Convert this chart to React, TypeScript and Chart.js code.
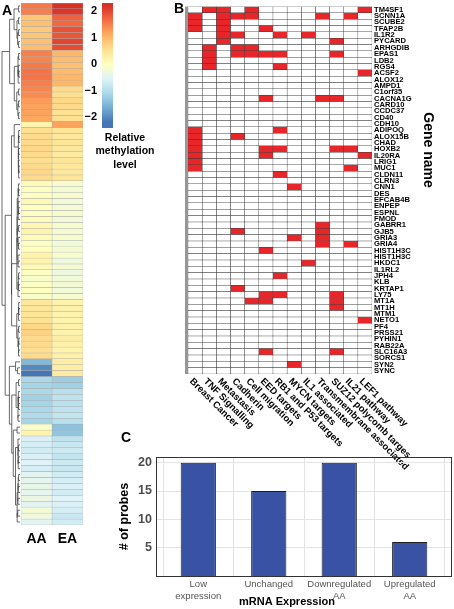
import React, { useEffect, useRef } from 'react';
import { Chart, registerables } from 'chart.js';
Chart.register(...registerables);

const FONT = '"Liberation Sans", Arial, Helvetica, sans-serif';

// ---------- Panel A: relative methylation heatmap ----------
const heatColumns = ['AA', 'EA'];
const aaValues = [
  1.55, 1.5,
  0.85, 0.9, 0.8, 0.85, 0.9, 0.95,
  1.5, 1.45, 1.55, 1.6, 1.6, 1.5,
  1.45, 1.4, 1.25, 1.2, 1.2, 1.15,
  0.2,
  0.55, 0.6, 0.6, 0.65, 0.6, 0.55, 0.6, 0.65, 0.6,
  0.05, -0.05, 0.0, 0.1, 0.0, -0.05, 0.05, 0.15, 0.2, 0.05, -0.05, 0.0, 0.2, 0.2, 0.1, -0.05, -0.1, -0.05, 0.0, -0.1,
  0.4, 0.45, 0.45, 0.5, 0.65, 0.7, 0.6, 0.6, 0.55, 0.6,
  -1.5, -2.0, -2.2,
  -1.1, -1.15, -1.1, -1.2, -1.15, -1.1, -1.05, -1.15,
  -0.1, 0.2,
  -0.6, -0.65, -0.7, -0.6, -0.55, -0.65, -0.5, -0.45, -0.4, -0.45, -0.35, -0.5, -0.2, -0.3, -0.5,
];
const eaValues = [
  2.2, 2.15,
  1.75, 1.7, 1.9, 1.85, 2.0, 1.95,
  1.0, 0.95, 0.9, 0.95, 1.0, 1.0,
  0.6, 0.55, 0.65, 0.6, 0.5, 0.55,
  1.2,
  0.45, 0.4, 0.45, 0.4, 0.35, 0.45, 0.4, 0.4, 0.45,
  -0.15, -0.2, -0.15, -0.25, -0.2, -0.15, -0.25, -0.15, -0.2, -0.15, -0.25, -0.2, -0.15, -0.3, -0.2, -0.3, -0.25, -0.2, -0.25, -0.15,
  0.2, 0.25, 0.2, 0.2, 0.25, 0.2, 0.3, 0.25, 0.2, 0.25,
  0.3, 0.3, 0.35,
  -1.25, -1.2, -0.95, -0.9, -0.95, -0.9, -0.85, -0.95,
  -1.4, -1.35,
  -0.9, -0.8, -0.75, -0.85, -0.75, -0.8, -0.7, -0.65, -0.6, -0.7, -0.55, -0.6, -0.65, -0.8, -0.7,
];
const colorbarTicks = [2, 1, 0, -1, -2];
const colorbarRange = [-2.41, 2.3];
const colorbarTitle = ['Relative', 'methylation', 'level'];
const rdylbu = ['#4575b4', '#74add1', '#abd9e9', '#e0f3f8', '#ffffbf', '#fee090', '#fdae61', '#f46d43', '#d73027'];
const colorLimit = 2.2;

// ---------- Panel B: pathway membership ----------
const genes = [
  'TM4SF1', 'SCNN1A', 'SCUBE2', 'TFAP2B', 'IL1R2', 'PYCARD', 'ARHGDIB', 'EPAS1', 'LDB2', 'RGS4',
  'ACSF2', 'ALOX12', 'AMPD1', 'C1orf35', 'CACNA1G', 'CARD10', 'CCDC37', 'CD40', 'CDH10', 'ADIPOQ',
  'ALOX15B', 'CHAD', 'HOXB2', 'IL20RA', 'LRIG1', 'MUC1', 'CLDN11', 'CLRN3', 'CNN1', 'DES',
  'EFCAB4B', 'ENPEP', 'ESPNL', 'FMOD', 'GABRR1', 'GJB5', 'GRIA3', 'GRIA4', 'HIST1H3C', 'HIST1H3C',
  'HKDC1', 'IL1RL2', 'JPH4', 'KLB', 'KRTAP1', 'LY75', 'MT1A', 'MT1H', 'MTM1', 'NETO1',
  'PF4', 'PRSS21', 'PYHIN1', 'RAB22A', 'SLC16A3', 'SORCS1', 'SYN2', 'SYNC',
];
const pathways = [
  'Breast Cancer', 'TNF Signalling', 'Metastasis', 'Cadherin', 'Cell migration', 'EED targets',
  'RB1 and P53 targets', 'MYCN targets', 'IL1 associated', 'Transmembrane associated',
  'SUZ12 polycomb targes', 'IL21 pathway', 'LEF1 pathway',
];
// pathway column indices each gene belongs to (same order as genes)
const geneHits: number[][] = [
  [1, 2, 4, 12], [0, 2, 3, 4, 9, 11], [0, 2], [0, 2, 5], [2, 3, 6, 8], [2, 10], [1, 3, 4], [1, 3, 4, 5, 6, 10], [1], [1, 6],
  [12], [], [], [], [5, 9, 10], [], [], [], [], [0, 6],
  [0, 3], [0], [0, 5, 6, 10, 11], [0, 5, 12], [0], [0, 11], [6], [], [7], [],
  [], [], [], [], [9], [3, 9], [7, 9], [9, 11], [5], [],
  [8], [], [6], [], [3], [5, 6, 10], [4, 5, 10], [10], [], [12],
  [], [], [], [], [5, 10], [], [7], [],
];
const hitColor = '#e8262a';

// ---------- Panel C: probes per mRNA expression group ----------
const expressionCategories = [['Low', 'expression'], ['Unchanged'], ['Downregulated', 'AA'], ['Upregulated', 'AA']];
const probeCounts = [20, 15, 20, 6];
const probeTicks = [5, 10, 15, 20];

function hexToRgb(h: string) {
  return [parseInt(h.slice(1, 3), 16), parseInt(h.slice(3, 5), 16), parseInt(h.slice(5, 7), 16)];
}
function colorFor(v: number) {
  const t = Math.min(1, Math.max(0, (v + colorLimit) / (2 * colorLimit))) * (rdylbu.length - 1);
  const i = Math.min(rdylbu.length - 2, Math.floor(t));
  const f = t - i;
  const a = hexToRgb(rdylbu[i]);
  const b = hexToRgb(rdylbu[i + 1]);
  const c = a.map((x, k) => Math.round(x + (b[k] - x) * f));
  return `rgb(${c[0]},${c[1]},${c[2]})`;
}

type TNode = { n: number; m: number[]; h: number; pos: number; kids?: TNode[] };
function buildTree(): TNode {
  let cl: TNode[] = aaValues.map((a, i) => ({ n: 1, m: [a, eaValues[i]], h: 0, pos: i }));
  while (cl.length > 1) {
    let best = 0;
    let bestD = Infinity;
    for (let j = 0; j < cl.length - 1; j++) {
      const A = cl[j], B = cl[j + 1];
      const dx = A.m[0] - B.m[0], dy = A.m[1] - B.m[1];
      const d = Math.sqrt(((2 * A.n * B.n) / (A.n + B.n)) * (dx * dx + dy * dy));
      if (d < bestD) { bestD = d; best = j; }
    }
    const A = cl[best], B = cl[best + 1];
    const n = A.n + B.n;
    const node: TNode = {
      n,
      m: [(A.m[0] * A.n + B.m[0] * B.n) / n, (A.m[1] * A.n + B.m[1] * B.n) / n],
      h: Math.max(bestD, A.h, B.h),
      pos: (A.pos + B.pos) / 2,
      kids: [A, B],
    };
    cl.splice(best, 2, node);
  }
  return cl[0];
}

export default function App() {
  const aRef = useRef<HTMLCanvasElement>(null);
  const bRef = useRef<HTMLCanvasElement>(null);
  const cRef = useRef<HTMLCanvasElement>(null);

  useEffect(() => {
    Chart.defaults.font.family = FONT;
    const charts: Chart[] = [];
    const tree = buildTree();

    // ---- Panel A ----
    const aPlugin = {
      id: 'aExtras',
      afterDraw(chart: any) {
        const { ctx, chartArea, scales } = chart;
        ctx.save();
        // dendrogram
        const right = chartArea.left - 1;
        const left = 2;
        const maxH = tree.h;
        const hx = (h: number) => right - Math.sqrt(h / maxH) * (right - left);
        const py = (p: number) => scales.y.getPixelForValue(p);
        ctx.strokeStyle = '#444';
        ctx.lineWidth = 0.8;
        const walk = (nd: TNode) => {
          if (!nd.kids) return;
          const [A, B] = nd.kids;
          ctx.beginPath();
          ctx.moveTo(hx(A.h), py(A.pos));
          ctx.lineTo(hx(nd.h), py(A.pos));
          ctx.lineTo(hx(nd.h), py(B.pos));
          ctx.lineTo(hx(B.h), py(B.pos));
          ctx.stroke();
          walk(A);
          walk(B);
        };
        walk(tree);
        // column labels
        ctx.fillStyle = '#000';
        ctx.font = `bold 14px ${FONT}`;
        ctx.textAlign = 'center';
        ctx.textBaseline = 'alphabetic';
        heatColumns.forEach((c, i) => {
          ctx.fillText(c, scales.x.getPixelForValue(i + 0.5), chartArea.bottom + 18);
        });
        // colour bar
        const cbx = 102, cbw = 11, cbTop = 3, cbBot = 128;
        const vAt = (y: number) => colorbarRange[1] - ((y - cbTop) / (cbBot - cbTop)) * (colorbarRange[1] - colorbarRange[0]);
        const yAt = (v: number) => cbTop + ((colorbarRange[1] - v) / (colorbarRange[1] - colorbarRange[0])) * (cbBot - cbTop);
        for (let y = cbTop; y < cbBot; y++) {
          ctx.fillStyle = colorFor(vAt(y + 0.5));
          ctx.fillRect(cbx, y, cbw, 1);
        }
        ctx.fillStyle = '#000';
        ctx.font = `bold 11px ${FONT}`;
        ctx.textAlign = 'right';
        ctx.textBaseline = 'middle';
        colorbarTicks.forEach((t) => {
          ctx.fillText(t < 0 ? '\u2212' + Math.abs(t) : String(t), 97, yAt(t));
        });
        ctx.textAlign = 'center';
        ctx.font = `bold 10.5px ${FONT}`;
        colorbarTitle.forEach((s, i) => ctx.fillText(s, 125, 138 + i * 13.5));
        ctx.restore();
      },
    };
    charts.push(
      new Chart(aRef.current!, {
        type: 'bar',
        data: {
          labels: aaValues.map((_, i) => String(i)),
          datasets: [aaValues, eaValues].map((vals, k) => ({
            label: heatColumns[k],
            data: vals.map(() => 1),
            backgroundColor: vals.map(colorFor),
            borderColor: '#a9a9a9',
            borderWidth: 0.5,
            borderSkipped: false,
            barPercentage: 1,
            categoryPercentage: 1,
          })),
        },
        options: {
          indexAxis: 'y',
          responsive: false,
          animation: false,
          layout: { padding: { left: 21, top: 3, right: 180 - 83, bottom: 550 - 525 } },
          plugins: { legend: { display: false }, tooltip: { enabled: false } },
          scales: {
            x: { stacked: true, min: 0, max: 2, display: false },
            y: { stacked: true, display: false },
          },
        },
        plugins: [aPlugin],
      } as any)
    );

    // ---- Panel B ----
    const bPlugin = {
      id: 'bExtras',
      afterDraw(chart: any) {
        const { ctx, chartArea, scales } = chart;
        ctx.save();
        ctx.fillStyle = '#979797';
        ctx.fillRect(chartArea.left - 3, chartArea.top, 3, chartArea.bottom - chartArea.top);
        ctx.fillStyle = '#000';
        ctx.font = `bold 9.5px ${FONT}`;
        ctx.textAlign = 'left';
        ctx.textBaseline = 'middle';
        pathways.forEach((p, j) => {
          const x = scales.x.getPixelForValue(j + 0.5);
          ctx.save();
          ctx.translate(x - 4, chartArea.bottom + 6);
          ctx.rotate(Math.PI / 4);
          ctx.fillText(p, 0, 0);
          ctx.restore();
        });
        ctx.save();
        ctx.translate(248, 150);
        ctx.rotate(Math.PI / 2);
        ctx.font = `bold 14px ${FONT}`;
        ctx.textAlign = 'center';
        ctx.fillText('Gene name', 0, 0);
        ctx.restore();
        ctx.restore();
      },
    };
    charts.push(
      new Chart(bRef.current!, {
        type: 'bar',
        data: {
          labels: genes,
          datasets: pathways.map((p, j) => ({
            label: p,
            data: genes.map(() => 1),
            backgroundColor: geneHits.map((h) => (h.includes(j) ? hitColor : '#ffffff')),
            borderColor: '#3c3c3c',
            borderWidth: 0.5,
            borderSkipped: false,
            barPercentage: 1,
            categoryPercentage: 1,
          })),
        },
        options: {
          indexAxis: 'y',
          responsive: false,
          animation: false,
          layout: { padding: { left: 8, top: 5, right: 0, bottom: 470 - 374 } },
          plugins: { legend: { display: false }, tooltip: { enabled: false } },
          scales: {
            x: { stacked: true, min: 0, max: pathways.length, display: false },
            y: {
              stacked: true,
              position: 'right',
              grid: { display: false, drawTicks: false },
              border: { display: false },
              afterFit: (s: any) => { s.width = 82; },
              ticks: {
                autoSkip: false,
                padding: 2,
                color: '#000',
                font: { size: 7.6, weight: 'bold', family: FONT },
              },
            },
          },
        },
        plugins: [bPlugin],
      } as any)
    );

    // ---- Panel C ----
    const cPlugin = {
      id: 'cExtras',
      afterDraw(chart: any) {
        const { ctx, chartArea } = chart;
        ctx.save();
        ctx.strokeStyle = '#333';
        ctx.lineWidth = 1;
        ctx.strokeRect(chartArea.left + 0.5, chartArea.top + 0.5, chartArea.right - chartArea.left - 1, chartArea.bottom - chartArea.top);
        ctx.fillStyle = '#000';
        ctx.font = `bold 11px ${FONT}`;
        ctx.textAlign = 'center';
        ctx.textBaseline = 'middle';
        ctx.fillText('mRNA Expression', 172, 177);
        ctx.restore();
      },
    };
    charts.push(
      new Chart(cRef.current!, {
        type: 'bar',
        data: {
          datasets: [
            {
              data: probeCounts.map((v, i) => ({ x: i + 1, y: v })),
              backgroundColor: '#3a52a3',
              borderColor: '#1e1e1e',
              borderWidth: 1,
              barPercentage: 0.5,
              categoryPercentage: 1,
            },
          ],
        },
        options: {
          responsive: false,
          animation: false,
          layout: { padding: { left: 0, top: 32, right: 2, bottom: 0 } },
          plugins: { legend: { display: false }, tooltip: { enabled: false } },
          scales: {
            x: {
              type: 'linear',
              min: 0.4,
              max: 4.6,
              offset: false,
              afterBuildTicks: (s: any) => { s.ticks = expressionCategories.map((_, i) => ({ value: i + 1 })); },
              afterFit: (s: any) => { s.height = 33; },
              grid: { color: '#e3e3e3', drawTicks: false },
              border: { display: false },
              ticks: {
                padding: 3,
                color: '#555',
                font: { size: 9.5, family: FONT, lineHeight: 1.2 },
                maxRotation: 0,
                callback: (v: any) => expressionCategories[Math.round(v) - 1] || '',
              },
            },
            y: {
              min: 0,
              max: 21,
              afterBuildTicks: (s: any) => { s.ticks = probeTicks.map((v) => ({ value: v })); },
              afterFit: (s: any) => { s.width = 41; },
              grid: { color: '#e3e3e3', drawTicks: false },
              border: { display: false },
              title: {
                display: true,
                text: '# of probes',
                color: '#000',
                font: { size: 12.5, weight: 'bold', family: FONT },
                padding: { top: 2, bottom: 0 },
              },
              ticks: {
                padding: 4,
                color: '#4d4d4d',
                font: { size: 12.5, weight: 'bold', family: FONT },
              },
            },
          },
        },
        plugins: [cPlugin],
      } as any)
    );

    return () => charts.forEach((c) => c.destroy());
  }, []);

  const letter = (t: string, left: number, top: number) => (
    <div style={{ position: 'absolute', left, top, font: `bold 14px ${FONT}`, lineHeight: '14px', color: '#000' }}>{t}</div>
  );

  return (
    <div style={{ position: 'absolute', left: 0, top: 0, width: 454, height: 609, background: '#fff', overflow: 'hidden' }}>
      <canvas ref={aRef} width={180} height={550} style={{ position: 'absolute', left: 0, top: 0 }} />
      <canvas ref={bRef} width={274} height={470} style={{ position: 'absolute', left: 180, top: 0 }} />
      <canvas ref={cRef} width={339} height={184} style={{ position: 'absolute', left: 115, top: 425 }} />
      {letter('A', 2, 3)}
      {letter('B', 174, 1)}
      {letter('C', 121, 430)}
    </div>
  );
}
